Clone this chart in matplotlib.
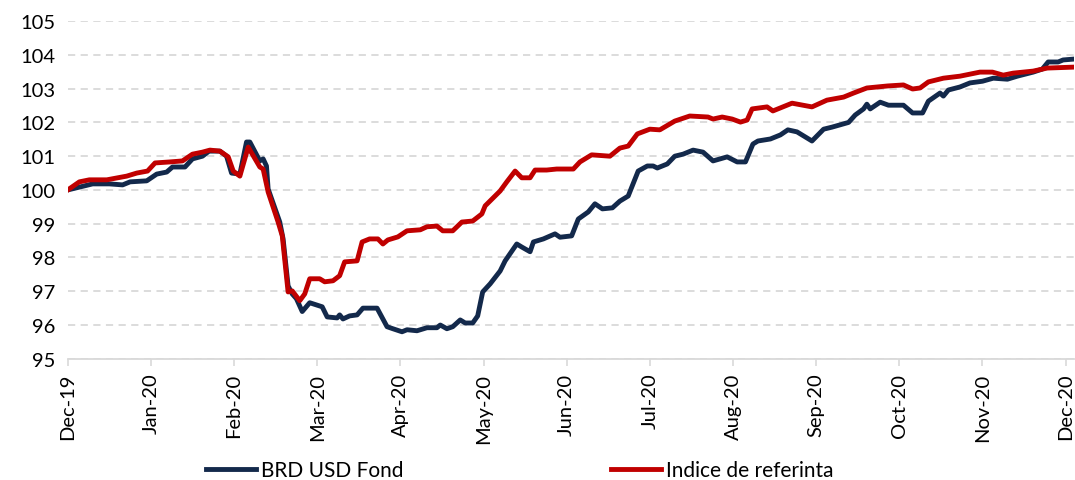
import numpy as np
import matplotlib.pyplot as plt

plt.rcParams['font.family'] = ['Lato', 'DejaVu Sans']

# month position (0 = Dec-19) and index level
months = ["Dec-19", "Jan-20", "Feb-20", "Mar-20", "Apr-20", "May-20", "Jun-20",
          "Jul-20", "Aug-20", "Sep-20", "Oct-20", "Nov-20", "Dec-20"]

fond_t = [0.0, 0.3, 0.5, 0.66, 0.75, 0.95, 1.07, 1.19, 1.26, 1.41, 1.5, 1.62, 1.7, 1.83,
          1.91, 1.97, 2.07, 2.15, 2.19, 2.31, 2.35, 2.39, 2.41, 2.55, 2.59, 2.65, 2.7,
          2.75, 2.82, 2.91, 3.06, 3.12, 3.24, 3.27, 3.31, 3.39, 3.48, 3.55, 3.72, 3.84,
          3.91, 4.02, 4.08, 4.2, 4.32, 4.44, 4.48, 4.56, 4.63, 4.72, 4.78, 4.87, 4.93,
          4.99, 5.08, 5.2, 5.26, 5.4, 5.46, 5.56, 5.6, 5.72, 5.86, 5.92, 6.06, 6.14,
          6.26, 6.34, 6.43, 6.55, 6.64, 6.74, 6.86, 6.97, 7.04, 7.09, 7.21, 7.3, 7.4,
          7.52, 7.64, 7.76, 7.93, 8.05, 8.15, 8.24, 8.3, 8.45, 8.57, 8.66, 8.77, 8.81,
          8.95, 9.09, 9.19, 9.39, 9.47, 9.57, 9.61, 9.65, 9.77, 9.87, 10.05, 10.16,
          10.28, 10.35, 10.49, 10.53, 10.59, 10.73, 10.85, 11.0, 11.13, 11.3, 11.42,
          11.61, 11.72, 11.79, 11.91, 11.97, 12.12]
fond_v = [100.0, 100.18, 100.18, 100.15, 100.24, 100.27, 100.47, 100.53, 100.68, 100.68,
          100.92, 101.0, 101.15, 101.15, 101.0, 100.5, 100.47, 101.42, 101.42, 100.86,
          100.92, 100.71, 100.03, 99.05, 98.55, 97.16, 96.92, 96.78, 96.4, 96.66, 96.54,
          96.24, 96.21, 96.3, 96.18, 96.27, 96.3, 96.5, 96.5, 95.95, 95.89, 95.8, 95.86,
          95.83, 95.92, 95.92, 96.0, 95.89, 95.95, 96.15, 96.06, 96.06, 96.27, 96.98,
          97.22, 97.6, 97.9, 98.4, 98.31, 98.17, 98.46, 98.55, 98.7, 98.6, 98.64, 99.14,
          99.35, 99.59, 99.44, 99.47, 99.67, 99.82, 100.56, 100.71, 100.71, 100.65,
          100.77, 101.0, 101.06, 101.18, 101.12, 100.86, 100.98, 100.83, 100.83, 101.36,
          101.45, 101.51, 101.63, 101.78, 101.72, 101.66, 101.45, 101.8, 101.86, 102.0,
          102.22, 102.4, 102.54, 102.4, 102.6, 102.51, 102.51, 102.28, 102.28, 102.63,
          102.87, 102.78, 102.96, 103.05, 103.17, 103.22, 103.31, 103.28, 103.37, 103.49,
          103.58, 103.79, 103.79, 103.85, 103.88]

index_t = [0.0, 0.14, 0.26, 0.47, 0.71, 0.83, 0.96, 1.05, 1.23, 1.38, 1.5, 1.62, 1.71,
           1.83, 1.93, 1.99, 2.07, 2.17, 2.31, 2.35, 2.41, 2.53, 2.58, 2.65, 2.7, 2.79,
           2.85, 2.91, 3.03, 3.09, 3.19, 3.27, 3.33, 3.48, 3.54, 3.63, 3.73, 3.79, 3.85,
           3.97, 4.08, 4.24, 4.32, 4.44, 4.51, 4.63, 4.74, 4.87, 4.98, 5.02, 5.2, 5.28,
           5.38, 5.46, 5.56, 5.62, 5.76, 5.88, 6.08, 6.16, 6.3, 6.52, 6.64, 6.74, 6.85,
           7.0, 7.12, 7.3, 7.48, 7.7, 7.76, 7.87, 7.99, 8.09, 8.17, 8.23, 8.41, 8.48,
           8.71, 8.95, 9.13, 9.33, 9.45, 9.61, 9.86, 10.05, 10.16, 10.25, 10.35, 10.53,
           10.73, 10.97, 11.12, 11.25, 11.37, 11.61, 11.78, 12.12]
index_v = [100.0, 100.24, 100.3, 100.3, 100.41, 100.5, 100.56, 100.8, 100.83, 100.86,
           101.06, 101.12, 101.18, 101.15, 100.98, 100.56, 100.41, 101.27, 100.68, 100.62,
           99.94, 99.05, 98.64, 96.98, 97.01, 96.72, 96.92, 97.37, 97.37, 97.28, 97.31,
           97.46, 97.87, 97.9, 98.46, 98.55, 98.55, 98.4, 98.52, 98.61, 98.79, 98.82,
           98.91, 98.93, 98.79, 98.79, 99.05, 99.08, 99.29, 99.53, 99.97, 100.24, 100.56,
           100.36, 100.36, 100.59, 100.59, 100.62, 100.62, 100.83, 101.04, 101.0, 101.24,
           101.3, 101.66, 101.8, 101.78, 102.04, 102.19, 102.16, 102.1, 102.16, 102.1,
           102.01, 102.07, 102.4, 102.46, 102.34, 102.57, 102.46, 102.66, 102.75, 102.87,
           103.02, 103.08, 103.11, 102.99, 103.02, 103.2, 103.31, 103.37, 103.49, 103.49,
           103.4, 103.46, 103.52, 103.61, 103.64]

fig = plt.figure(figsize=(10.75, 4.81), dpi=100)
ax = fig.add_axes([0.063, 0.252, 0.936, 0.702])

ax.plot(fond_t, fond_v, color="#13294b", lw=3.5, label="BRD USD Fond", solid_joinstyle="round")
ax.plot(index_t, index_v, color="#c00000", lw=3.5, label="Indice de referinta", solid_joinstyle="round")

ax.set_xlim(0, 12.1)
ax.set_ylim(95, 105)
ax.set_yticks(range(95, 106))
ax.set_xticks(range(len(months)))
ax.set_xticklabels(months, rotation=90, fontsize=14.5)
ax.tick_params(axis="y", length=0, labelsize=14.5, pad=9)
ax.tick_params(axis="x", length=5, color="#d9d9d9", width=1.2, pad=5)

ax.grid(axis="y", color="#d9d9d9", linestyle=(0, (4, 3)), lw=1.3)
ax.set_axisbelow(True)
for s in ["top", "right", "left"]:
    ax.spines[s].set_visible(False)
ax.spines["bottom"].set_color("#d9d9d9")
ax.spines["bottom"].set_linewidth(1.3)

fig.legend(loc="lower left", bbox_to_anchor=(0.1745, -0.04), ncol=2, frameon=False,
           fontsize=15, handlelength=2.4, columnspacing=10.0, handletextpad=0.2)

fig.savefig("out.png", dpi=100)
